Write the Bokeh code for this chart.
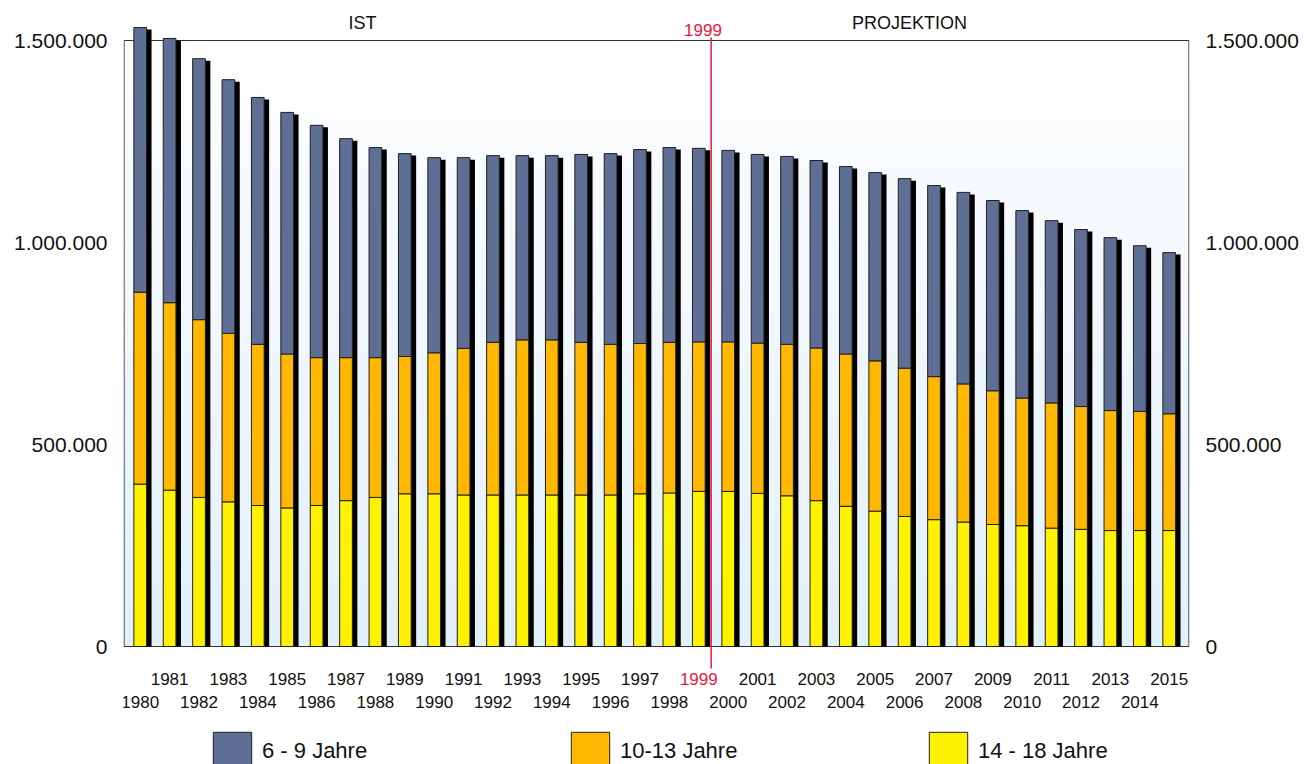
import numpy as np
from bokeh.plotting import figure
from bokeh.models import (Range1d, LinearAxis, FixedTicker, BoxAnnotation, Label,
                          Legend, LegendItem, ColumnDataSource)
from bokeh.embed import file_html
from bokeh.resources import INLINE

# ---------------- data ----------------
years = list(range(1980, 2016))
age_6_9 = [655000, 654000, 646000, 628000, 611000, 598000, 575000, 542000, 520000, 502000,
           483000, 472000, 462000, 456000, 456000, 465000, 472000, 480000, 482000, 479000,
           474000, 467000, 465000, 464000, 464000, 466000, 469000, 473000, 474000, 471000,
           464000, 451000, 438000, 428000, 410000, 399000]
age_10_13 = [475000, 464000, 440000, 417000, 399000, 381000, 366000, 354000, 346000, 340000,
             349000, 363000, 378000, 384000, 384000, 378000, 373000, 372000, 373000, 370000,
             370000, 372000, 375000, 378000, 377000, 372000, 367000, 354000, 342000, 331000,
             316000, 310000, 304000, 297000, 295000, 289000]
age_14_18 = [402000, 387000, 369000, 358000, 349000, 343000, 349000, 361000, 369000, 378000,
             378000, 375000, 375000, 375000, 375000, 375000, 375000, 378000, 380000, 384000,
             384000, 379000, 373000, 361000, 347000, 335000, 322000, 314000, 308000, 302000,
             299000, 293000, 290000, 287000, 287000, 287000]
series_labels = ["6 - 9 Jahre", "10-13 Jahre", "14 - 18 Jahre"]
y_ticks = [0, 500000, 1000000, 1500000]
y_tick_labels = ["0", "500.000", "1.000.000", "1.500.000"]
split_year = 1999
section_labels = ["IST", "PROJEKTION"]

# ---------------- style ----------------
COL_BLUE = "#5f6e94"
COL_ORANGE = "#ffb700"
COL_YELLOW = "#fff200"
RED = "#e8173f"
FONT = "Liberation Sans"

PX = 2475.25                      # data units per pixel (vertical)
X0, X1 = 1979.432, 2015.69
Y0, Y1 = -118 * PX, 646 * PX      # frame spans the full canvas height
Y_MAX = 1500000
BAR_W = 0.432
SH_DX, SH_DY = 0.17, 2 * PX
AXIS_LOC = -25 * PX               # where the x-axis label rows hang from
LINE_BOTTOM = -22 * PX

totals = [a + b + c for a, b, c in zip(age_6_9, age_10_13, age_14_18)]
src = ColumnDataSource(dict(
    year=years, y14=age_14_18, y10=age_10_13, y6=age_6_9,
    sx=[y + SH_DX for y in years], stop=[t - SH_DY for t in totals],
))

p = figure(width=1304, height=764, x_range=Range1d(X0, X1), y_range=Range1d(Y0, Y1),
           output_backend="svg", toolbar_location=None,
           x_axis_location=None, y_axis_location=None,
           min_border_left=123, min_border_right=115, min_border_top=0, min_border_bottom=0)
p.outline_line_color = None
p.xgrid.visible = False
p.ygrid.visible = False
p.background_fill_color = "white"
p.border_fill_color = "white"

# background gradient inside plot area
n = 200
t = np.linspace(0, 1, n)
top_c = np.array([255, 255, 255])
bot_c = np.array([226, 240, 252])
img = np.zeros((n, 1), dtype=np.uint32)
view = img.view(dtype=np.uint8).reshape((n, 1, 4))
for i in range(n):
    c = bot_c + (top_c - bot_c) * t[i]
    view[i, 0, 0:3] = c.astype(np.uint8)
    view[i, 0, 3] = 255
bg = p.image_rgba(image=[img], x=X0, y=0, dw=X1 - X0, dh=Y_MAX)
bg.level = "image"

p.add_layout(BoxAnnotation(left=X0 + 0.02, right=X1 - 0.02, bottom=0, top=Y_MAX,
                           fill_alpha=0, line_color="#333333", line_alpha=1.0,
                           line_width=1, level="underlay"))

# shadows
p.vbar(x="sx", top="stop", bottom=0, width=BAR_W, fill_color="black", line_color=None, source=src)
# stacked bars
rs = p.vbar_stack(["y14", "y10", "y6"], x="year", width=BAR_W,
                  fill_color=[COL_YELLOW, COL_ORANGE, COL_BLUE],
                  line_color="#1f1f1f", line_width=1, source=src)

# divider line
p.segment(x0=[split_year + 0.42], y0=[LINE_BOTTOM], x1=[split_year + 0.42], y1=[1507400],
          line_color=RED, line_width=1.5)

# y axes
for side in ("left", "right"):
    ax = LinearAxis(ticker=FixedTicker(ticks=y_ticks),
                    major_label_overrides={t_: l for t_, l in zip(y_ticks, y_tick_labels)},
                    axis_line_color=None, major_tick_line_color=None, minor_tick_line_color=None,
                    major_tick_out=0, major_tick_in=0, minor_tick_out=0, minor_tick_in=0,
                    major_label_standoff=16, major_label_text_font=FONT,
                    major_label_text_font_size="21px", major_label_text_color="#111111")
    p.add_layout(ax, side)

# x axes (staggered rows), anchored at a fixed location
odd = [y for y in years if y % 2 == 1]
even = [y for y in years if y % 2 == 0]
XT = dict(axis_line_color=None, major_tick_line_color=None, minor_tick_line_color=None,
          major_tick_out=0, major_tick_in=0, minor_tick_out=0, minor_tick_in=0,
          major_label_text_font=FONT, major_label_text_font_size="17px",
          fixed_location=AXIS_LOC)
for ticks, so in ((odd, 1), (even, 24)):
    ov = {y: ("" if y == split_year else str(y)) for y in ticks}
    ax = LinearAxis(ticker=FixedTicker(ticks=ticks), major_label_overrides=ov,
                    major_label_standoff=so, major_label_text_color="#111111", **XT)
    p.add_layout(ax, "below")
ax_red = LinearAxis(ticker=FixedTicker(ticks=[split_year]),
                    major_label_overrides={split_year: str(split_year)},
                    major_label_standoff=1, major_label_text_color=RED, **XT)
p.add_layout(ax_red, "below")

# labels
p.add_layout(Label(x=split_year + 0.14, y=1526700, text=str(split_year), text_align="center",
                   text_baseline="middle", text_color=RED, text_font=FONT,
                   text_font_size="17px"))
p.add_layout(Label(x=1987.56, y=1542100, text=section_labels[0], text_align="center",
                   text_baseline="middle", text_color="#111111", text_font=FONT,
                   text_font_size="18px"))
p.add_layout(Label(x=2006.17, y=1542100, text=section_labels[1], text_align="center",
                   text_baseline="middle", text_color="#111111", text_font=FONT,
                   text_font_size="18px"))

# legend
legend = Legend(items=[LegendItem(label=series_labels[0], renderers=[rs[2]]),
                       LegendItem(label=series_labels[1], renderers=[rs[1]]),
                       LegendItem(label=series_labels[2], renderers=[rs[0]])],
                orientation="horizontal", location=(85, -11),
                glyph_width=48, glyph_height=48, label_standoff=6, label_width=290,
                spacing=14, padding=0, margin=0, border_line_color=None,
                background_fill_alpha=0, label_text_font=FONT, label_text_font_size="22px",
                label_text_color="#111111")
p.add_layout(legend)

open("out.html", "w").write(file_html(p, INLINE))
